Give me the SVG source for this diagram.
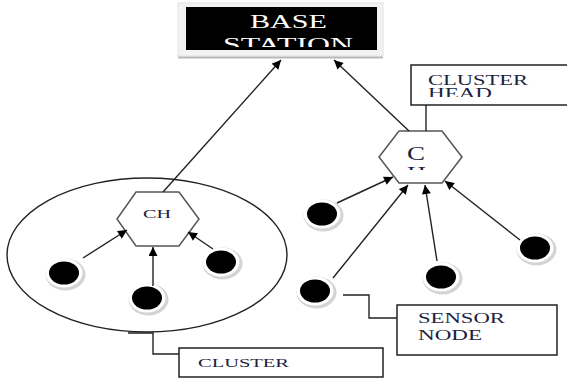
<svg xmlns="http://www.w3.org/2000/svg" width="567" height="382" viewBox="0 0 567 382">
<style>
.lbl{font-family:"Liberation Serif","Times New Roman",serif;fill:#1c2340}
.box{fill:#fff;stroke:#222;stroke-width:1.5}
.hex{fill:#fff;stroke:#555;stroke-width:1.5}
.ln{stroke:#222;stroke-width:1.4;fill:none}
.arr{stroke:#222;stroke-width:1.4;fill:none;marker-end:url(#ah)}
</style>
<defs>
<marker id="ah" viewBox="0 0 10 10" refX="10" refY="5" markerWidth="10" markerHeight="9" markerUnits="userSpaceOnUse" orient="auto">
<path d="M0,0 L10,5 L0,10 Z" fill="#000"/>
</marker>
<clipPath id="cBS"><rect x="186" y="7" width="191" height="40"/></clipPath>
<clipPath id="cCH2"><rect x="380" y="132" width="80" height="38"/></clipPath>
<clipPath id="cHead"><rect x="411" y="65" width="156" height="32"/></clipPath>
<g id="dot">
<ellipse cx="1.5" cy="1.5" rx="20" ry="16" fill="#d4d4d4"/>
<ellipse cx="0" cy="0" rx="18.5" ry="14.5" fill="#fff"/>
<ellipse cx="0" cy="0" rx="15" ry="11.5" fill="#000"/>
</g>
</defs>
<rect width="567" height="382" fill="#fff"/>

<g id="base-station">
<rect x="178" y="3" width="205" height="53" fill="#f3f3f3" stroke="#e2e2e2"/>
<line x1="178" y1="57.5" x2="383" y2="57.5" stroke="#b8b8b8" stroke-width="2"/>
<rect x="186" y="7" width="191" height="43" fill="#000"/>
<g clip-path="url(#cBS)">
<text x="250" y="28" font-size="19" class="lbl" style="fill:#fff" textLength="77" lengthAdjust="spacingAndGlyphs">BASE</text>
<text x="223" y="51" font-size="19" class="lbl" style="fill:#fff" textLength="130" lengthAdjust="spacingAndGlyphs">STATION</text>
</g>
</g>

<g id="cluster">
<ellipse cx="147" cy="255" rx="140" ry="77" fill="none" stroke="#222" stroke-width="1.4"/>
</g>

<g id="cluster-label">
<rect x="179" y="348" width="204" height="29" class="box"/>
<text x="198" y="367" font-size="13.5" class="lbl" textLength="91" lengthAdjust="spacingAndGlyphs">CLUSTER</text>
</g>

<g id="cluster-head-label">
<rect x="411" y="65" width="170" height="40" class="box"/>
<text x="428" y="85" font-size="15" class="lbl" textLength="100" lengthAdjust="spacingAndGlyphs">CLUSTER</text>
<g clip-path="url(#cHead)">
<text x="428" y="98" font-size="15" class="lbl" textLength="64" lengthAdjust="spacingAndGlyphs">HEAD</text>
</g>
</g>

<g id="sensor-node-label">
<rect x="397" y="305" width="160" height="50" class="box"/>
<text x="418" y="323" font-size="15" class="lbl" textLength="87" lengthAdjust="spacingAndGlyphs">SENSOR</text>
<text x="418" y="340" font-size="15" class="lbl" textLength="64" lengthAdjust="spacingAndGlyphs">NODE</text>
</g>

<g id="ch-left">
<polygon points="136,192 179,192 199,219 179,246 136,246 117,219" class="hex"/>
<text x="143" y="218" font-size="13" class="lbl" textLength="28" lengthAdjust="spacingAndGlyphs">CH</text>
</g>

<g id="ch-right">
<polygon points="399,131 442,131 462,157 442,183 399,183 379,157" class="hex"/>
<g clip-path="url(#cCH2)">
<text x="407" y="160" font-size="19" class="lbl" textLength="18" lengthAdjust="spacingAndGlyphs">C</text>
<text x="407" y="180" font-size="19" class="lbl" textLength="19" lengthAdjust="spacingAndGlyphs">H</text>
</g>
</g>

<g id="node-l1"><use href="#dot" x="64" y="273"/></g>
<g id="node-l2"><use href="#dot" x="147" y="298"/></g>
<g id="node-l3"><use href="#dot" x="221" y="262"/></g>
<g id="node-r1"><use href="#dot" x="322" y="214"/></g>
<g id="node-r2"><use href="#dot" x="315" y="291"/></g>
<g id="node-r3"><use href="#dot" x="441" y="277"/></g>
<g id="node-r4"><use href="#dot" x="535" y="248"/></g>

<g id="connectors">
<line x1="163" y1="192" x2="281" y2="60" class="arr"/>
<line x1="409" y1="131" x2="334" y2="60" class="arr"/>
<line x1="83" y1="258" x2="127" y2="230" class="arr"/>
<line x1="153" y1="286" x2="153" y2="247" class="arr"/>
<line x1="213" y1="249" x2="188" y2="232" class="arr"/>
<line x1="337" y1="203" x2="393" y2="177" class="arr"/>
<line x1="333" y1="278" x2="408" y2="185" class="arr"/>
<line x1="437" y1="261" x2="425" y2="185" class="arr"/>
<line x1="520" y1="240" x2="445" y2="181" class="arr"/>
<polyline points="128,333 153,333 153,354 179,354" class="ln"/>
<polyline points="343,295 369,295 369,318 397,318" class="ln"/>
<line x1="426" y1="105" x2="426" y2="131" class="ln"/>
</g>
</svg>
